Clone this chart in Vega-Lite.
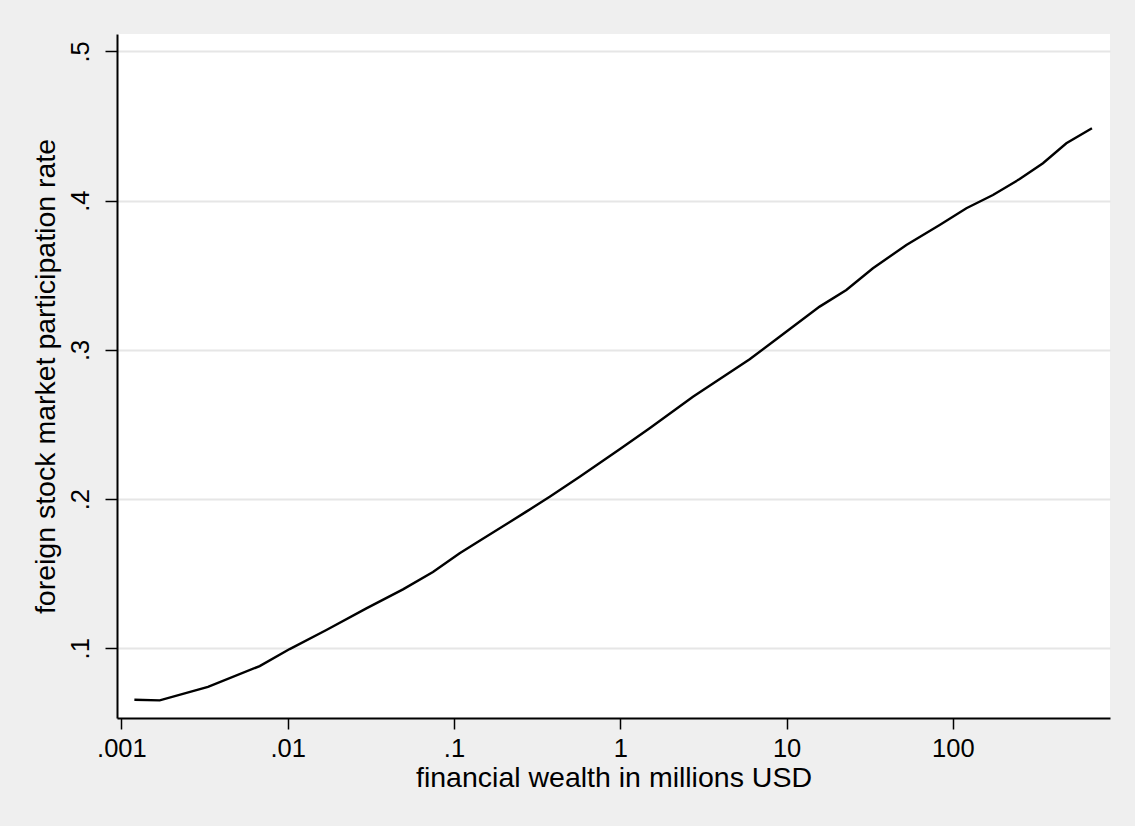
{
  "$schema": "https://vega.github.io/schema/vega-lite/v6.json",
  "autosize": {"type": "none"},
  "width": 993,
  "height": 684,
  "padding": {"left": 117, "top": 34, "right": 25, "bottom": 108},
  "background": "#efefef",
  "config": {
    "view": {"fill": "white", "stroke": null},
    "font": "Liberation Sans",
    "axis": {
      "domainColor": "black",
      "domainWidth": 2,
      "tickColor": "black",
      "tickWidth": 1.5,
      "tickSize": 11,
      "labelColor": "black",
      "labelFontSize": 25.5,
      "titleColor": "black",
      "titleFontSize": 28.5,
      "titleFontWeight": "normal"
    }
  },
  "data": {
    "values": [
      {"wealth": 0.001197, "rate": 0.0655},
      {"wealth": 0.0017, "rate": 0.0651},
      {"wealth": 0.003317, "rate": 0.0741},
      {"wealth": 0.006785, "rate": 0.0881},
      {"wealth": 0.01028, "rate": 0.0995},
      {"wealth": 0.01709, "rate": 0.1123},
      {"wealth": 0.02973, "rate": 0.1268},
      {"wealth": 0.04935, "rate": 0.1395},
      {"wealth": 0.07474, "rate": 0.1511},
      {"wealth": 0.1082, "rate": 0.1637},
      {"wealth": 0.1427, "rate": 0.1721},
      {"wealth": 0.2724, "rate": 0.1916},
      {"wealth": 0.3764, "rate": 0.2016},
      {"wealth": 0.5702, "rate": 0.215},
      {"wealth": 0.9918, "rate": 0.2334},
      {"wealth": 1.502, "rate": 0.2475},
      {"wealth": 2.736, "rate": 0.2686},
      {"wealth": 6.001, "rate": 0.2937},
      {"wealth": 9.08, "rate": 0.3088},
      {"wealth": 15.81, "rate": 0.329},
      {"wealth": 22.88, "rate": 0.3401},
      {"wealth": 33.07, "rate": 0.3547},
      {"wealth": 52.53, "rate": 0.3703},
      {"wealth": 83.29, "rate": 0.3837},
      {"wealth": 120.6, "rate": 0.3949},
      {"wealth": 174.2, "rate": 0.4038},
      {"wealth": 252.2, "rate": 0.4145},
      {"wealth": 348.2, "rate": 0.4251},
      {"wealth": 481.4, "rate": 0.4385},
      {"wealth": 686.2, "rate": 0.4485}
    ]
  },
  "mark": {"type": "line", "color": "black", "strokeWidth": 2.4, "clip": true},
  "encoding": {
    "x": {
      "field": "wealth",
      "type": "quantitative",
      "scale": {"type": "log", "domain": [0.000941, 881], "nice": false},
      "axis": {
        "title": "financial wealth in millions USD",
        "values": [0.001, 0.01, 0.1, 1, 10, 100],
        "labelExpr": "replace(format(datum.value, '~g'), '0.', '.')",
        "grid": false,
        "labelPadding": 7,
        "titlePadding": 2,
        "labelFlush": false,
        "labelOverlap": false
      }
    },
    "y": {
      "field": "rate",
      "type": "quantitative",
      "scale": {"domain": [0.0533, 0.5117], "nice": false, "zero": false},
      "axis": {
        "title": "foreign stock market participation rate",
        "values": [0.1, 0.2, 0.3, 0.4, 0.5],
        "labelExpr": "replace(format(datum.value, '~g'), '0.', '.')",
        "grid": true,
        "gridColor": "#e6e6e6",
        "gridWidth": 2,
        "labelAngle": -90,
        "labelAlign": "center",
        "labelBaseline": "bottom",
        "labelPadding": 12,
        "titlePadding": 8,
        "tickSize": 12,
        "labelFlush": false,
        "labelOverlap": false
      }
    }
  }
}
